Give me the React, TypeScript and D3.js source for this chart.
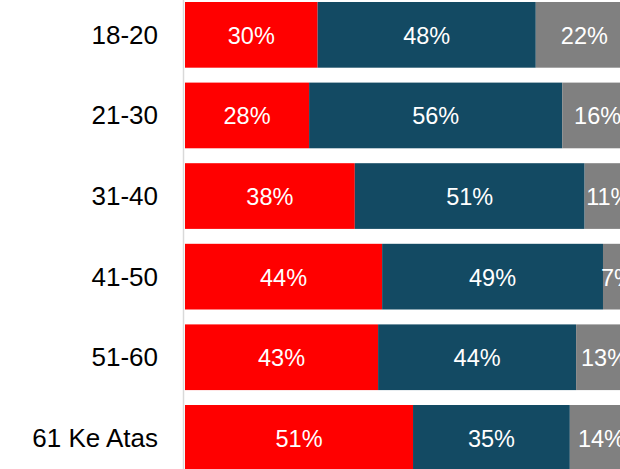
import * as d3 from "d3";

const categories = ["18-20", "21-30", "31-40", "41-50", "51-60", "61 Ke Atas"];
// segment widths (percent) as measured from the bars
const redValues = [29.6, 27.7, 37.9, 44.0, 43.1, 50.9];
const blueValues = [48.7, 56.5, 51.3, 49.3, 44.2, 35.0];
const greyValues = [21.7, 15.8, 10.8, 6.7, 12.7, 14.1];
// printed labels
const redLabels = [30, 28, 38, 44, 43, 51];
const blueLabels = [48, 56, 51, 49, 44, 35];
const greyLabels = [22, 16, 11, 7, 13, 14];

const seriesKeys = ["red", "blue", "grey"];
const colors: Record<string, string> = {
  red: "#ff0000",
  blue: "#134a63",
  grey: "#808080",
};
const labels: Record<string, number[]> = {
  red: redLabels,
  blue: blueLabels,
  grey: greyLabels,
};

const width = 620;
const height = 469;

export default function App() {
  const rows = categories.map((c, i) => ({
    cat: c,
    red: redValues[i],
    blue: blueValues[i],
    grey: greyValues[i],
  }));

  const stack = d3.stack<any>().keys(seriesKeys);
  const layers = stack(rows);

  const x = d3.scaleLinear().domain([0, 100]).range([185, 633]);
  const y = d3
    .scaleBand()
    .domain(categories)
    .range([2, 470.7])
    .paddingInner(0.185)
    .paddingOuter(0);

  const font = "'Liberation Sans', Arial, sans-serif";

  return (
    <svg
      width={width}
      height={height}
      style={{ position: "fixed", left: 0, top: 0, display: "block", background: "#fff" }}
    >
      {layers.map((layer) => (
        <g key={layer.key} fill={colors[layer.key]}>
          {layer.map((d, i) => {
            const x0 = x(d[0]);
            const x1 = x(d[1]);
            const yy = y(categories[i])!;
            return (
              <g key={i}>
                <rect x={x0} y={yy} width={x1 - x0} height={y.bandwidth()} />
                <text
                  x={(x0 + x1) / 2}
                  y={yy + y.bandwidth() / 2 + 1}
                  textAnchor="middle"
                  dominantBaseline="central"
                  fill="#fff"
                  fontFamily={font}
                  fontSize={23.5}
                >
                  {labels[layer.key][i]}%
                </text>
              </g>
            );
          })}
        </g>
      ))}
      <line x1={183.5} x2={183.5} y1={0} y2={height} stroke="#d9d9d9" strokeWidth={1.5} />
      {categories.map((c) => (
        <text
          key={c}
          x={158}
          y={y(c)! + y.bandwidth() / 2}
          textAnchor="end"
          dominantBaseline="central"
          fill="#000"
          fontFamily={font}
          fontSize={26}
        >
          {c}
        </text>
      ))}
    </svg>
  );
}
